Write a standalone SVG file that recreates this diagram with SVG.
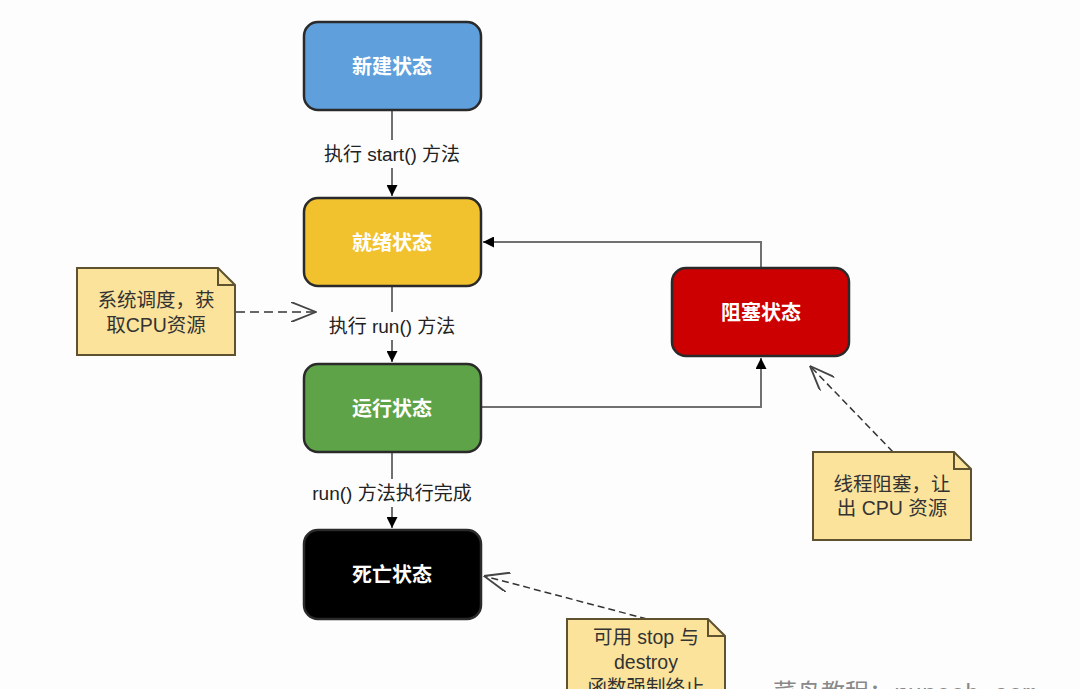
<svg xmlns="http://www.w3.org/2000/svg" width="1080" height="689" viewBox="0 0 1080 689">
<style>
.node{stroke:#2a2a2a;stroke-width:2.5}
.nt{font-family:"Liberation Sans","Noto Sans CJK SC",sans-serif;font-size:20px;font-weight:bold;fill:#fff;text-anchor:middle}
.lbl{font-family:"Liberation Sans","Noto Sans CJK SC",sans-serif;font-size:19px;fill:#222;text-anchor:middle}
.note{fill:#fbe39c;stroke:#5e5230;stroke-width:2}
.nt2{font-family:"Liberation Sans","Noto Sans CJK SC",sans-serif;font-size:19.5px;fill:#333;text-anchor:middle}
.ln{fill:none;stroke:#707070;stroke-width:2}
.dash{fill:none;stroke:#333;stroke-width:1.5;stroke-dasharray:7,4}
.lblbg{fill:#fdfdfd}
.wm{font-family:"Liberation Mono","Noto Sans CJK SC",monospace;font-size:24px;fill:#888}
</style>
<defs>
<marker id="arr" viewBox="0 0 10 10" refX="10" refY="5" markerWidth="11" markerHeight="11" markerUnits="userSpaceOnUse" orient="auto">
<path d="M0,0 L10,5 L0,10 Z" fill="#000"/>
</marker>
<marker id="open" viewBox="0 0 20 16" refX="20" refY="8" markerWidth="26" markerHeight="20" markerUnits="userSpaceOnUse" orient="auto">
<path d="M0,0 L20,8 L0,16" fill="none" stroke="#444" stroke-width="1.5"/>
</marker>
</defs>
<rect width="1080" height="689" fill="#fdfdfd"/>
<g id="connectors">
<line class="ln" x1="392" y1="110" x2="392" y2="196" marker-end="url(#arr)"/>
<rect class="lblbg" x="314" y="140" width="156" height="28"/>
<text class="lbl" x="392" y="161">执行 start() 方法</text>
<line class="ln" x1="392" y1="286" x2="392" y2="362" marker-end="url(#arr)"/>
<rect class="lblbg" x="318" y="312" width="148" height="28"/>
<text class="lbl" x="392" y="333">执行 run() 方法</text>
<line class="ln" x1="392" y1="452" x2="392" y2="528" marker-end="url(#arr)"/>
<rect class="lblbg" x="300" y="479" width="184" height="28"/>
<text class="lbl" x="392" y="500">run() 方法执行完成</text>
<polyline class="ln" points="481,407 761,407 761,358" marker-end="url(#arr)"/>
<polyline class="ln" points="761,268 761,242 483,242" marker-end="url(#arr)"/>
<line class="dash" x1="236" y1="312" x2="316" y2="312" marker-end="url(#open)" style="stroke:#666;stroke-width:2.2;stroke-dasharray:9,5"/>
<line class="dash" x1="893" y1="452" x2="810" y2="366" marker-end="url(#open)"/>
<line class="dash" x1="647" y1="619" x2="484" y2="576" marker-end="url(#open)"/>
</g>
<g id="new">
<rect class="node" x="304" y="22" width="177" height="88" rx="14" fill="#5fa0dc"/>
<text class="nt" x="392" y="74">新建状态</text>
</g>
<g id="ready">
<rect class="node" x="304" y="198" width="177" height="88" rx="14" fill="#f2c12e"/>
<text class="nt" x="392" y="250">就绪状态</text>
</g>
<g id="running">
<rect class="node" x="304" y="364" width="177" height="88" rx="14" fill="#5fa348"/>
<text class="nt" x="392" y="416">运行状态</text>
</g>
<g id="dead">
<rect class="node" x="304" y="530" width="177" height="89" rx="14" fill="#000"/>
<text class="nt" x="392" y="582">死亡状态</text>
</g>
<g id="blocked">
<rect class="node" x="672" y="268" width="177" height="88" rx="14" fill="#cc0000"/>
<text class="nt" x="761" y="320">阻塞状态</text>
</g>
<g id="note1">
<path class="note" d="M77,268 H218 L235,285 V355 H77 Z"/>
<path d="M218,268 V285 H235" fill="none" stroke="#5e5230" stroke-width="2"/>
<text class="nt2" x="156" y="307">系统调度，获</text>
<text class="nt2" x="156" y="332">取CPU资源</text>
</g>
<g id="note2">
<path class="note" d="M813,452 H954 L971,469 V540 H813 Z"/>
<path d="M954,452 V469 H971" fill="none" stroke="#5e5230" stroke-width="2"/>
<text class="nt2" x="892" y="491">线程阻塞，让</text>
<text class="nt2" x="892" y="515">出 CPU 资源</text>
</g>
<g id="note3">
<path class="note" d="M567,619 H708 L725,636 V700 H567 Z"/>
<path d="M708,619 V636 H725" fill="none" stroke="#5e5230" stroke-width="2"/>
<text class="nt2" x="646" y="644">可用 stop 与</text>
<text class="nt2" x="646" y="669">destroy</text>
<text class="nt2" x="646" y="694">函数强制终止</text>
</g>
<text class="wm" x="773" y="701">菜鸟教程：runoob.com</text>
</svg>
